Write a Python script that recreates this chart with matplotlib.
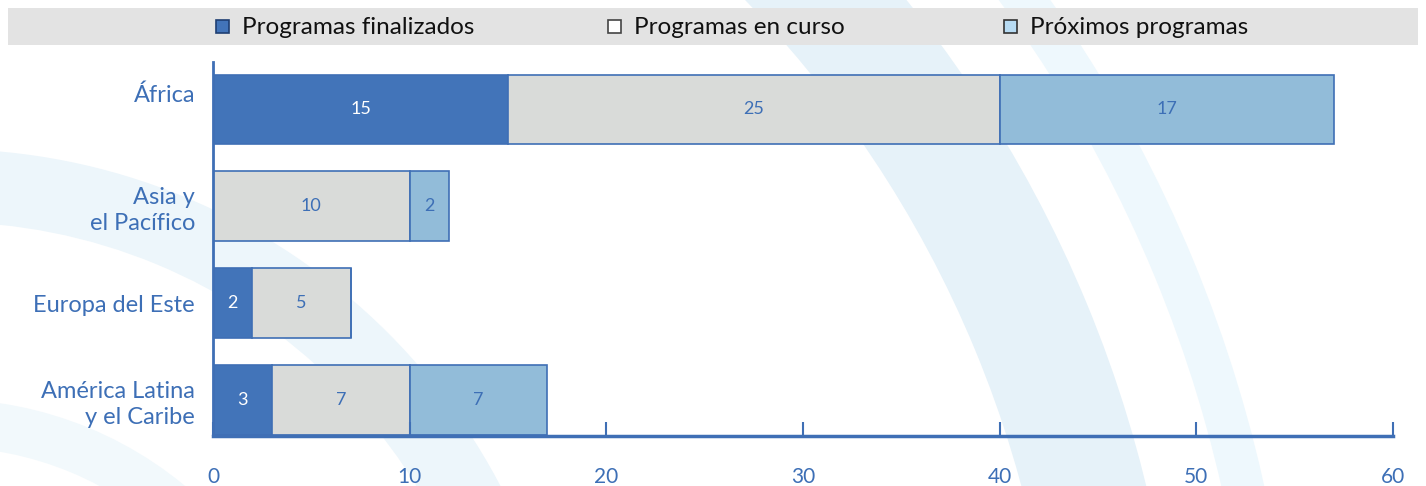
import matplotlib.pyplot as plt
from matplotlib.patches import Wedge, Rectangle
from matplotlib.transforms import ScaledTranslation

plt.rcParams['font.family'] = ['Lato', 'DejaVu Sans']

# Data
regions = ["América Latina\ny el Caribe", "Europa del Este", "Asia y\nel Pacífico", "África"]
finalizados = [3, 2, 0, 15]
en_curso = [7, 5, 10, 25]
proximos = [7, 0, 2, 17]
series_names = ["Programas finalizados", "Programas en curso", "Próximos programas"]
x_ticks = [0, 10, 20, 30, 40, 50, 60]

# Colours
blue_dark = '#4274b9'
grey = '#d9dbd9'
blue_light = '#92bcd9'
edge = '#3f6fb5'
text_blue = '#3d6fb6'

W, H = 1426, 486
fig = plt.figure(figsize=(W / 100, H / 100), dpi=100)
fig.patch.set_facecolor('white')

# background layer in pixel coordinates (decorative arcs + legend strip)
bg = fig.add_axes([0, 0, 1, 1], zorder=0)
bg.set_xlim(0, W)
bg.set_ylim(H, 0)
bg.axis('off')
centre = (-56, 777)
for r_out, r_in, col in [(1237, 1116, '#e6f2f9'), (1352, 1310, '#eef8fd'),
                         (628, 555, '#edf6fb'), (378, 330, '#f2f9fc')]:
    bg.add_patch(Wedge(centre, r_out, 0, 360, width=r_out - r_in, facecolor=col, edgecolor='none'))
bg.add_patch(Rectangle((8, 8), 1410, 37, facecolor='#e3e3e3', edgecolor='none'))

legend_items = [
    (216, blue_dark, '#1f3f73', series_names[0]),
    (608, 'white', '#444444', series_names[1]),
    (1004, '#b7dbf3', '#333333', series_names[2]),
]
for x0, fc, ec, label in legend_items:
    bg.add_patch(Rectangle((x0, 20), 13, 13, facecolor=fc, edgecolor=ec, linewidth=1.2))
    bg.text(x0 + 26, 27, label, fontsize=17.5, color='#111111', va='center', ha='left')

# main chart
ax = fig.add_axes([213 / W, 50 / H, 1180 / W, 374 / H], zorder=1)
ax.patch.set_alpha(0)

ypos = range(len(regions))
left2 = [a for a in finalizados]
left3 = [a + b for a, b in zip(finalizados, en_curso)]
b1 = ax.barh(ypos, finalizados, height=0.72, color=blue_dark, edgecolor=edge, linewidth=1.2)
b2 = ax.barh(ypos, en_curso, left=left2, height=0.72, color=grey, edgecolor=edge, linewidth=1.2)
b3 = ax.barh(ypos, proximos, left=left3, height=0.72, color=blue_light, edgecolor=edge, linewidth=1.2)

for cont, vals, col in [(b1, finalizados, 'white'), (b2, en_curso, text_blue), (b3, proximos, text_blue)]:
    ax.bar_label(cont, labels=[str(v) if v else '' for v in vals], label_type='center',
                 color=col, fontsize=13, padding=0)

ax.set_xlim(0, 60)
ax.set_ylim(-0.37, 3.49)
ax.set_yticks(list(ypos))
ax.set_yticklabels(regions, fontsize=17, color=text_blue, linespacing=1.3)
ax.set_xticks(x_ticks)
ax.set_xticklabels([str(t) for t in x_ticks], fontsize=15, color=text_blue)
ax.tick_params(axis='y', length=0, pad=13)
ax.tick_params(axis='x', direction='in', length=10, width=1.5, color=edge, pad=22)

# the top label sits higher than its bar in the original
lab = ax.get_yticklabels()[-1]
lab.set_transform(lab.get_transform() + ScaledTranslation(0, 16 / 100, fig.dpi_scale_trans))

for s in ['top', 'right']:
    ax.spines[s].set_visible(False)
ax.spines['left'].set_color(edge)
ax.spines['left'].set_linewidth(2)
ax.spines['bottom'].set_color(edge)
ax.spines['bottom'].set_linewidth(2.5)

fig.savefig('out.png', dpi=100)
